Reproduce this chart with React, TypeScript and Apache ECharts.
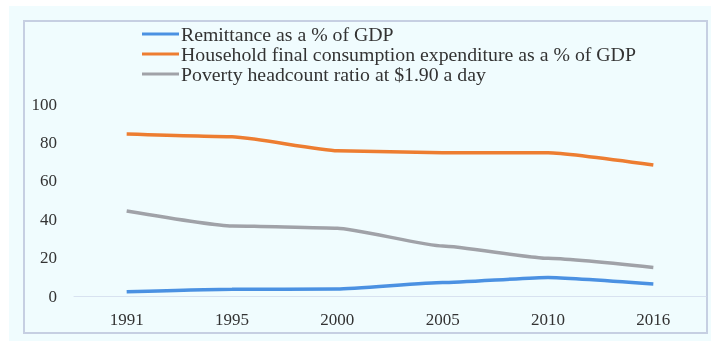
import React, { useEffect, useRef } from "react";
import * as echarts from "echarts";

const years = ["1991", "1995", "2000", "2005", "2010", "2016"];
const remittance = [2.2, 3.5, 3.6, 7.0, 9.7, 6.3];
const consumption = [84.4, 83.0, 75.7, 74.6, 74.6, 68.2];
const poverty = [44.3, 36.5, 35.3, 26.0, 19.6, 14.9];
const seriesNames = [
  "Remittance as a % of GDP",
  "Household final consumption expenditure as a % of GDP",
  "Poverty headcount ratio at $1.90 a day",
];
const colors = ["#4b91e2", "#ed7d31", "#a0a2a8"];

const FONT = "'Liberation Serif', 'Times New Roman', serif";

export default function App() {
  const ref = useRef<HTMLDivElement>(null);
  useEffect(() => {
    if (!ref.current) return;
    const chart = echarts.init(ref.current, undefined, { renderer: "svg" });
    const data = [remittance, consumption, poverty];
    chart.setOption({
      animation: false,
      graphic: [
        {
          type: "rect",
          z: -10,
          silent: true,
          shape: { x: 9, y: 6, width: 702, height: 335 },
          style: { fill: "#f0fcfe" },
        },
        {
          type: "rect",
          z: -9,
          silent: true,
          shape: { x: 24, y: 21, width: 683, height: 312 },
          style: { fill: "none", stroke: "#c6cfe2", lineWidth: 2 },
        },
      ],
      legend: {
        orient: "vertical",
        left: 142,
        top: 24,
        itemGap: 0,
        itemWidth: 37,
        itemHeight: 3,
        icon: "rect",
        padding: 0,
        textStyle: {
          fontFamily: FONT,
          fontSize: 19.8,
          lineHeight: 19,
          color: "#333",
          padding: [0, 0, 0, -3],
        },
        data: seriesNames,
      },
      grid: { left: 74, right: 5, top: 104, bottom: 45, containLabel: false },
      xAxis: {
        type: "category",
        data: years,
        boundaryGap: true,
        axisLine: { show: true, lineStyle: { color: "#d8e2f0", width: 1 } },
        axisTick: { show: false },
        axisLabel: {
          fontFamily: FONT,
          fontSize: 17,
          color: "#333",
          margin: 15,
        },
      },
      yAxis: {
        type: "value",
        min: 0,
        max: 100,
        interval: 20,
        axisLine: { show: false },
        axisTick: { show: false },
        splitLine: { show: false },
        axisLabel: {
          fontFamily: FONT,
          fontSize: 17,
          color: "#333",
          margin: 17,
        },
      },
      series: seriesNames.map((name, i) => ({
        name,
        type: "line",
        data: data[i],
        smooth: 0.15,
        smoothMonotone: "x",
        showSymbol: false,
        symbol: "none",
        color: colors[i],
        lineStyle: { color: colors[i], width: 3.5 },
      })),
    });
    return () => chart.dispose();
  }, []);
  return (
    <div
      ref={ref}
      style={{ position: "fixed", left: 0, top: 0, width: 711, height: 341 }}
    />
  );
}
